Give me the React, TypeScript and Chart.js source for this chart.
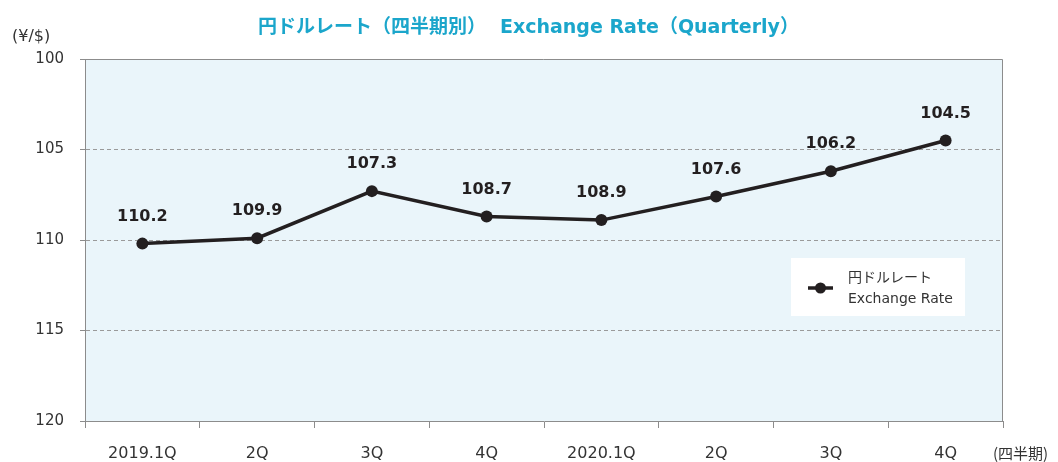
import React, { useEffect, useRef } from "react";
import { Chart, registerables } from "chart.js";

Chart.register(...registerables);

const categories = ["2019.1Q", "2Q", "3Q", "4Q", "2020.1Q", "2Q", "3Q", "4Q"];
const rates = [110.2, 109.9, 107.3, 108.7, 108.9, 107.6, 106.2, 104.5];
const yTicks = [100, 105, 110, 115, 120];

const TITLE_JA = "円ドルレート（四半期別）";
const TITLE_EN = "Exchange Rate（Quarterly）";
const Y_UNIT = "(¥/$)";
const X_UNIT = "(四半期)";
const LEGEND_JA = "円ドルレート";
const LEGEND_EN = "Exchange Rate";

const LABEL_FONT = "'DejaVu Sans', 'Noto Sans CJK JP', sans-serif";
const TEXT_FONT = "'Noto Sans CJK JP', 'Noto Sans', sans-serif";

const decorPlugin = {
  id: "decor",
  beforeDraw(chart: any) {
    const { ctx, chartArea: a } = chart;
    ctx.save();
    ctx.fillStyle = "#ffffff";
    ctx.fillRect(0, 0, chart.width, chart.height);
    ctx.fillStyle = "#EAF5FA";
    ctx.fillRect(a.left, a.top, a.right - a.left, a.bottom - a.top);
    ctx.restore();
  },
  beforeDatasetsDraw(chart: any) {
    const { ctx, chartArea: a } = chart;
    ctx.save();
    ctx.strokeStyle = "#8c8c8c";
    ctx.lineWidth = 1;
    ctx.beginPath();
    ctx.moveTo(a.left, a.top + 0.5);
    ctx.lineTo(a.right - 0.5, a.top + 0.5);
    ctx.lineTo(a.right - 0.5, a.bottom);
    ctx.stroke();
    ctx.restore();
  },
  afterDraw(chart: any) {
    const { ctx, chartArea: a } = chart;
    ctx.save();
    // title
    ctx.fillStyle = "#1BA6CB";
    ctx.textAlign = "left";
    ctx.textBaseline = "alphabetic";
    ctx.font = "bold 19px " + TEXT_FONT;
    ctx.fillText(TITLE_JA, 258, 33);
    ctx.font = "bold 19px " + LABEL_FONT;
    ctx.fillText(TITLE_EN, 500, 33);
    // units
    ctx.fillStyle = "#333333";
    ctx.textBaseline = "middle";
    ctx.font = "16px " + LABEL_FONT;
    ctx.fillText(Y_UNIT, 12, 37);
    ctx.font = "15px " + TEXT_FONT;
    ctx.fillText(X_UNIT, 993, 453);
    // legend
    const lx = a.left + 706;
    const ly = a.top + 199;
    ctx.fillStyle = "#ffffff";
    ctx.fillRect(lx, ly, 174, 58);
    ctx.strokeStyle = "#231F20";
    ctx.lineWidth = 3.5;
    ctx.beginPath();
    ctx.moveTo(lx + 17, ly + 30);
    ctx.lineTo(lx + 42, ly + 30);
    ctx.stroke();
    ctx.fillStyle = "#231F20";
    ctx.beginPath();
    ctx.arc(lx + 29.5, ly + 30, 5.5, 0, Math.PI * 2);
    ctx.fill();
    ctx.fillStyle = "#333333";
    ctx.textAlign = "left";
    ctx.font = "14px " + TEXT_FONT;
    ctx.fillText(LEGEND_JA, lx + 57, ly + 19);
    ctx.font = "14px " + LABEL_FONT;
    ctx.fillText(LEGEND_EN, lx + 57, ly + 41);
    ctx.restore();
  },
  afterDatasetsDraw(chart: any) {
    const { ctx } = chart;
    const meta = chart.getDatasetMeta(0);
    ctx.save();
    ctx.fillStyle = "#231F20";
    ctx.font = "bold 16px " + LABEL_FONT;
    ctx.textAlign = "center";
    ctx.textBaseline = "middle";
    meta.data.forEach((pt: any, i: number) => {
      ctx.fillText(rates[i].toFixed(1), pt.x, pt.y - 27);
    });
    ctx.restore();
  },
};

export default function App() {
  const ref = useRef<HTMLCanvasElement>(null);
  useEffect(() => {
    document.body.style.margin = "0";
    const chart = new Chart(ref.current!, {
      type: "line",
      data: {
        labels: categories,
        datasets: [
          {
            label: LEGEND_EN,
            data: rates,
            borderColor: "#231F20",
            backgroundColor: "#231F20",
            borderWidth: 3.5,
            pointRadius: 6,
            pointBackgroundColor: "#231F20",
            pointBorderWidth: 0,
            tension: 0,
          },
        ],
      },
      options: {
        animation: false,
        responsive: false,
        layout: { padding: { top: 59, right: 55, left: 0, bottom: 0 } },
        plugins: { legend: { display: false }, title: { display: false }, tooltip: { enabled: false } },
        scales: {
          x: {
            type: "category",
            offset: true,
            grid: {
              display: true,
              offset: true,
              drawOnChartArea: false,
              drawTicks: true,
              tickLength: 7,
              tickColor: "#8c8c8c",
            },
            border: { display: true, color: "#8c8c8c", width: 1 },
            ticks: {
              color: "#333333",
              font: { family: LABEL_FONT, size: 16 },
              padding: 16,
              maxRotation: 0,
              autoSkip: false,
            },
            afterFit(scale: any) {
              scale.height = 41;
            },
          },
          y: {
            type: "linear",
            reverse: true,
            min: 100,
            max: 120,
            afterBuildTicks(scale: any) {
              scale.ticks = yTicks.map((v) => ({ value: v }));
            },
            grid: {
              color: (c: any) => (c.tick && (c.tick.value === 100 || c.tick.value === 120) ? "rgba(0,0,0,0)" : "#9a9a9a"),
              lineWidth: 1,
              tickColor: "#8c8c8c",
              tickLength: 5,
              tickBorderDash: [],
            },
            border: { display: true, color: "#8c8c8c", width: 1, dash: [4, 3] },
            ticks: {
              color: "#333333",
              font: { family: LABEL_FONT, size: 15 },
              padding: 16,
            },
            afterFit(scale: any) {
              scale.width = 85;
            },
          },
        },
      },
      plugins: [decorPlugin],
    } as any);
    return () => chart.destroy();
  }, []);
  return (
    <div style={{ position: "absolute", left: 0, top: 0, width: 1058, height: 462 }}>
      <canvas ref={ref} width={1058} height={462} style={{ display: "block" }} />
    </div>
  );
}
